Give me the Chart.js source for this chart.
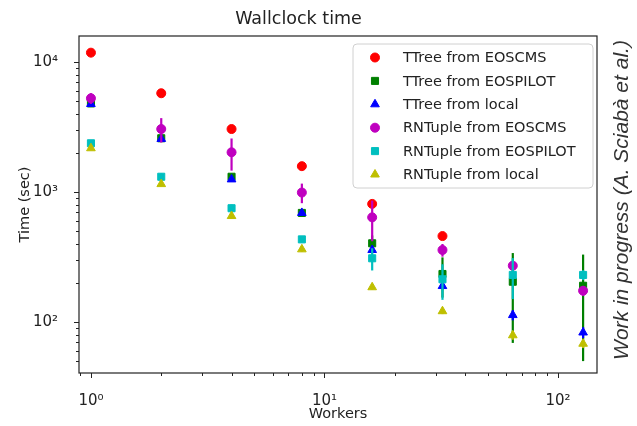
<!DOCTYPE html>
<html>
<head>
<meta charset="utf-8">
<script src="https://cdn.jsdelivr.net/npm/chart.js@4.4.0/dist/chart.umd.min.js"></script>
<style>
  html, body { margin: 0; padding: 0; background: #fff; }
</style>
</head>
<body>
<canvas id="wallChart" width="637" height="426"></canvas>
<script>
// number of workers (x axis)
const workers = [1, 2, 4, 8, 16, 32, 64, 128];

// wallclock time in seconds
const ttreeEoscms = [11800, 5750, 3050, 1580, 810, 458, null, null];
const ttreeEospilot = [4800, 2590, 1310, 690, 403, 234, 204, 190];
const ttreeLocal = [4750, 2560, 1250, 690, 358, 189, 113, 83];
const rntupleEoscms = [5260, 3050, 2020, 990, 638, 358, 271, 174];
const rntupleEospilot = [2370, 1310, 750, 432, 309, 213, 230, 230];
const rntupleLocal = [2170, 1150, 653, 362, 185, 121, 79, 68];

// error bars (+/- seconds)
const ttreeEoscmsErr = [0, 0, 0, 0, 0, 0, 0, 0];
const ttreeEospilotErr = [80, 50, 40, 25, 60, 80, 135, 140];
const ttreeLocalErr = [60, 40, 30, 20, 20, 10, 10, 8];
const rntupleEoscmsErr = [500, 650, 560, 170, 220, 40, 15, 15];
const rntupleEospilotErr = [80, 80, 50, 20, 60, 65, 80, 20];
const rntupleLocalErr = [50, 40, 30, 15, 8, 6, 6, 5];

const seriesLabels = ['TTree from EOSCMS', 'TTree from EOSPILOT', 'TTree from local',
  'RNTuple from EOSCMS', 'RNTuple from EOSPILOT', 'RNTuple from local'];

// tick labels
const xTickValues = [1, 10, 100];
const xTickLabels = ['10\u2070', '10\u00b9', '10\u00b2'];
const yTickValues = [100, 1000, 10000];
const yTickLabels = ['10\u00b2', '10\u00b3', '10\u2074'];

const FONT = 'DejaVu Sans';

function makeSet(i, values, errors, color, style, radius) {
  return {
    label: seriesLabels[i],
    data: workers.map((w, k) => ({ x: w, y: values[k] })),
    errors: errors,
    backgroundColor: color,
    borderColor: color,
    borderWidth: 1,
    pointStyle: style,
    pointRadius: radius,
    pointHoverRadius: radius,
    showLine: false,
    order: 6 - i, // later series drawn on top, like matplotlib
  };
}

// log ticks: 1..9 x 10^n inside the axis range
function logTicks(min, max) {
  const out = [];
  for (let e = -1; e <= 5; e++) {
    for (let m = 1; m <= 9; m++) {
      const v = m * Math.pow(10, e);
      if (v >= min && v <= max) out.push({ value: v, major: m === 1 });
    }
  }
  return out;
}

function tickLabel(values, labels) {
  return function (value) {
    const k = values.findIndex((v) => Math.abs(v - value) < 1e-9 * v);
    return k >= 0 ? labels[k] : '';
  };
}

// vertical error bars, drawn just under each dataset's markers
const errorBars = {
  id: 'errorBars',
  beforeDatasetDraw(chart, args) {
    const ds = chart.data.datasets[args.index];
    if (!ds.errors) return;
    const yScale = chart.scales.y;
    const ctx = chart.ctx;
    const area = chart.chartArea;
    ctx.save();
    ctx.beginPath();
    ctx.rect(area.left, area.top, area.right - area.left, area.bottom - area.top);
    ctx.clip();
    ctx.strokeStyle = ds.borderColor;
    ctx.lineWidth = 2.2;
    args.meta.data.forEach((pt, i) => {
      const v = ds.data[i].y;
      const e = ds.errors[i];
      if (v == null || !e) return;
      const top = yScale.getPixelForValue(v + e);
      const bot = yScale.getPixelForValue(Math.max(v - e, yScale.min / 10));
      ctx.beginPath();
      ctx.moveTo(pt.x, top);
      ctx.lineTo(pt.x, bot);
      ctx.stroke();
    });
    ctx.restore();
  },
};

// axes frame and matplotlib-like tick marks
const frameTicks = {
  id: 'frameTicks',
  afterDraw(chart) {
    const ctx = chart.ctx;
    const a = chart.chartArea;
    ctx.save();
    ctx.strokeStyle = '#222';
    ctx.lineWidth = 1.2;
    ctx.strokeRect(a.left, a.top, a.right - a.left, a.bottom - a.top);
    ctx.lineWidth = 1;
    chart.scales.x.ticks.forEach((t) => {
      const px = Math.round(chart.scales.x.getPixelForValue(t.value)) + 0.5;
      const len = t.major ? 5 : 3;
      ctx.beginPath();
      ctx.moveTo(px, a.bottom);
      ctx.lineTo(px, a.bottom + len);
      ctx.stroke();
    });
    chart.scales.y.ticks.forEach((t) => {
      const py = Math.round(chart.scales.y.getPixelForValue(t.value)) + 0.5;
      const len = t.major ? 5 : 3;
      ctx.beginPath();
      ctx.moveTo(a.left - len, py);
      ctx.lineTo(a.left, py);
      ctx.stroke();
    });
    ctx.restore();
  },
};

// legend box inside the upper right of the plot
const innerLegend = {
  id: 'innerLegend',
  afterDraw(chart) {
    const ctx = chart.ctx;
    const a = chart.chartArea;
    const w = 240, h = 144;
    const left = a.right - 4 - w;
    const top = a.top + 8;
    const r = 4;
    ctx.save();
    ctx.beginPath();
    ctx.moveTo(left + r, top);
    ctx.arcTo(left + w, top, left + w, top + h, r);
    ctx.arcTo(left + w, top + h, left, top + h, r);
    ctx.arcTo(left, top + h, left, top, r);
    ctx.arcTo(left, top, left + w, top, r);
    ctx.closePath();
    ctx.fillStyle = 'rgba(255,255,255,0.8)';
    ctx.fill();
    ctx.strokeStyle = '#d0d0d0';
    ctx.lineWidth = 1;
    ctx.stroke();
    ctx.font = '14.5px "' + FONT + '"';
    ctx.textBaseline = 'middle';
    ctx.textAlign = 'left';
    chart.data.datasets.forEach((ds, i) => {
      const y = top + 13.5 + i * 23.4;
      ctx.fillStyle = ds.backgroundColor;
      ctx.strokeStyle = ds.borderColor;
      Chart.helpers.drawPoint(ctx, {
        pointStyle: ds.pointStyle,
        radius: ds.pointRadius,
        rotation: 0,
        borderWidth: 1,
      }, left + 22, y);
      ctx.fillStyle = '#222';
      ctx.fillText(ds.label, left + 50, y + 1);
    });
    ctx.restore();
  },
};

// rotated note on the right side
const sideNote = {
  id: 'sideNote',
  afterDraw(chart) {
    const ctx = chart.ctx;
    ctx.save();
    ctx.translate(chart.chartArea.right + 25, 200);
    ctx.rotate(-Math.PI / 2);
    ctx.font = 'italic 21px "Liberation Sans"';
    ctx.fillStyle = '#333';
    ctx.textAlign = 'center';
    ctx.textBaseline = 'middle';
    ctx.fillText('Work in progress (A. Sciab\u00e0 et al.)', 0, 0);
    ctx.restore();
  },
};

const ctx = document.getElementById('wallChart').getContext('2d');
const wallChart = new Chart(ctx, {
  type: 'scatter',
  data: {
    datasets: [
      makeSet(0, ttreeEoscms, ttreeEoscmsErr, '#ff0000', 'circle', 4.5),
      makeSet(1, ttreeEospilot, ttreeEospilotErr, '#008000', 'rect', 5),
      makeSet(2, ttreeLocal, ttreeLocalErr, '#0000ff', 'triangle', 5),
      makeSet(3, rntupleEoscms, rntupleEoscmsErr, '#bf00bf', 'circle', 4.5),
      makeSet(4, rntupleEospilot, rntupleEospilotErr, '#00bfbf', 'rect', 5),
      makeSet(5, rntupleLocal, rntupleLocalErr, '#bfbf00', 'triangle', 5),
    ],
  },
  options: {
    responsive: false,
    animation: false,
    devicePixelRatio: 1,
    layout: { padding: { left: 0, right: 40, top: 0, bottom: 0 } },
    plugins: {
      legend: { display: false },
      tooltip: { enabled: false },
      title: {
        display: true,
        text: 'Wallclock time',
        color: '#222',
        font: { family: FONT, size: 17.5, weight: 'normal' },
        padding: { top: 9, bottom: 6 },
      },
    },
    scales: {
      x: {
        type: 'logarithmic',
        min: 0.889,
        max: 146.8,
        grid: { display: false },
        border: { display: false },
        afterBuildTicks: (scale) => { scale.ticks = logTicks(scale.min, scale.max); },
        afterFit: (scale) => { scale.height = 53; },
        ticks: {
          autoSkip: false,
          maxRotation: 0,
          padding: 11,
          color: '#222',
          font: { family: FONT, size: 15 },
          callback: tickLabel(xTickValues, xTickLabels),
        },
        title: {
          display: true,
          text: 'Workers',
          color: '#222',
          font: { family: FONT, size: 14.5 },
          padding: { top: 0, bottom: 3 },
        },
      },
      y: {
        type: 'logarithmic',
        min: 40.5,
        max: 15850,
        grid: { display: false },
        border: { display: false },
        afterBuildTicks: (scale) => { scale.ticks = logTicks(scale.min, scale.max); },
        afterFit: (scale) => { scale.width = 79; },
        ticks: {
          autoSkip: false,
          padding: 13,
          color: '#222',
          font: { family: FONT, size: 15 },
          callback: tickLabel(yTickValues, yTickLabels),
        },
        title: {
          display: true,
          text: 'Time (sec)',
          color: '#222',
          font: { family: FONT, size: 14.5 },
          padding: { top: 17, bottom: 0 },
        },
      },
    },
  },
  plugins: [errorBars, frameTicks, innerLegend, sideNote],
});
</script>
</body>
</html>
